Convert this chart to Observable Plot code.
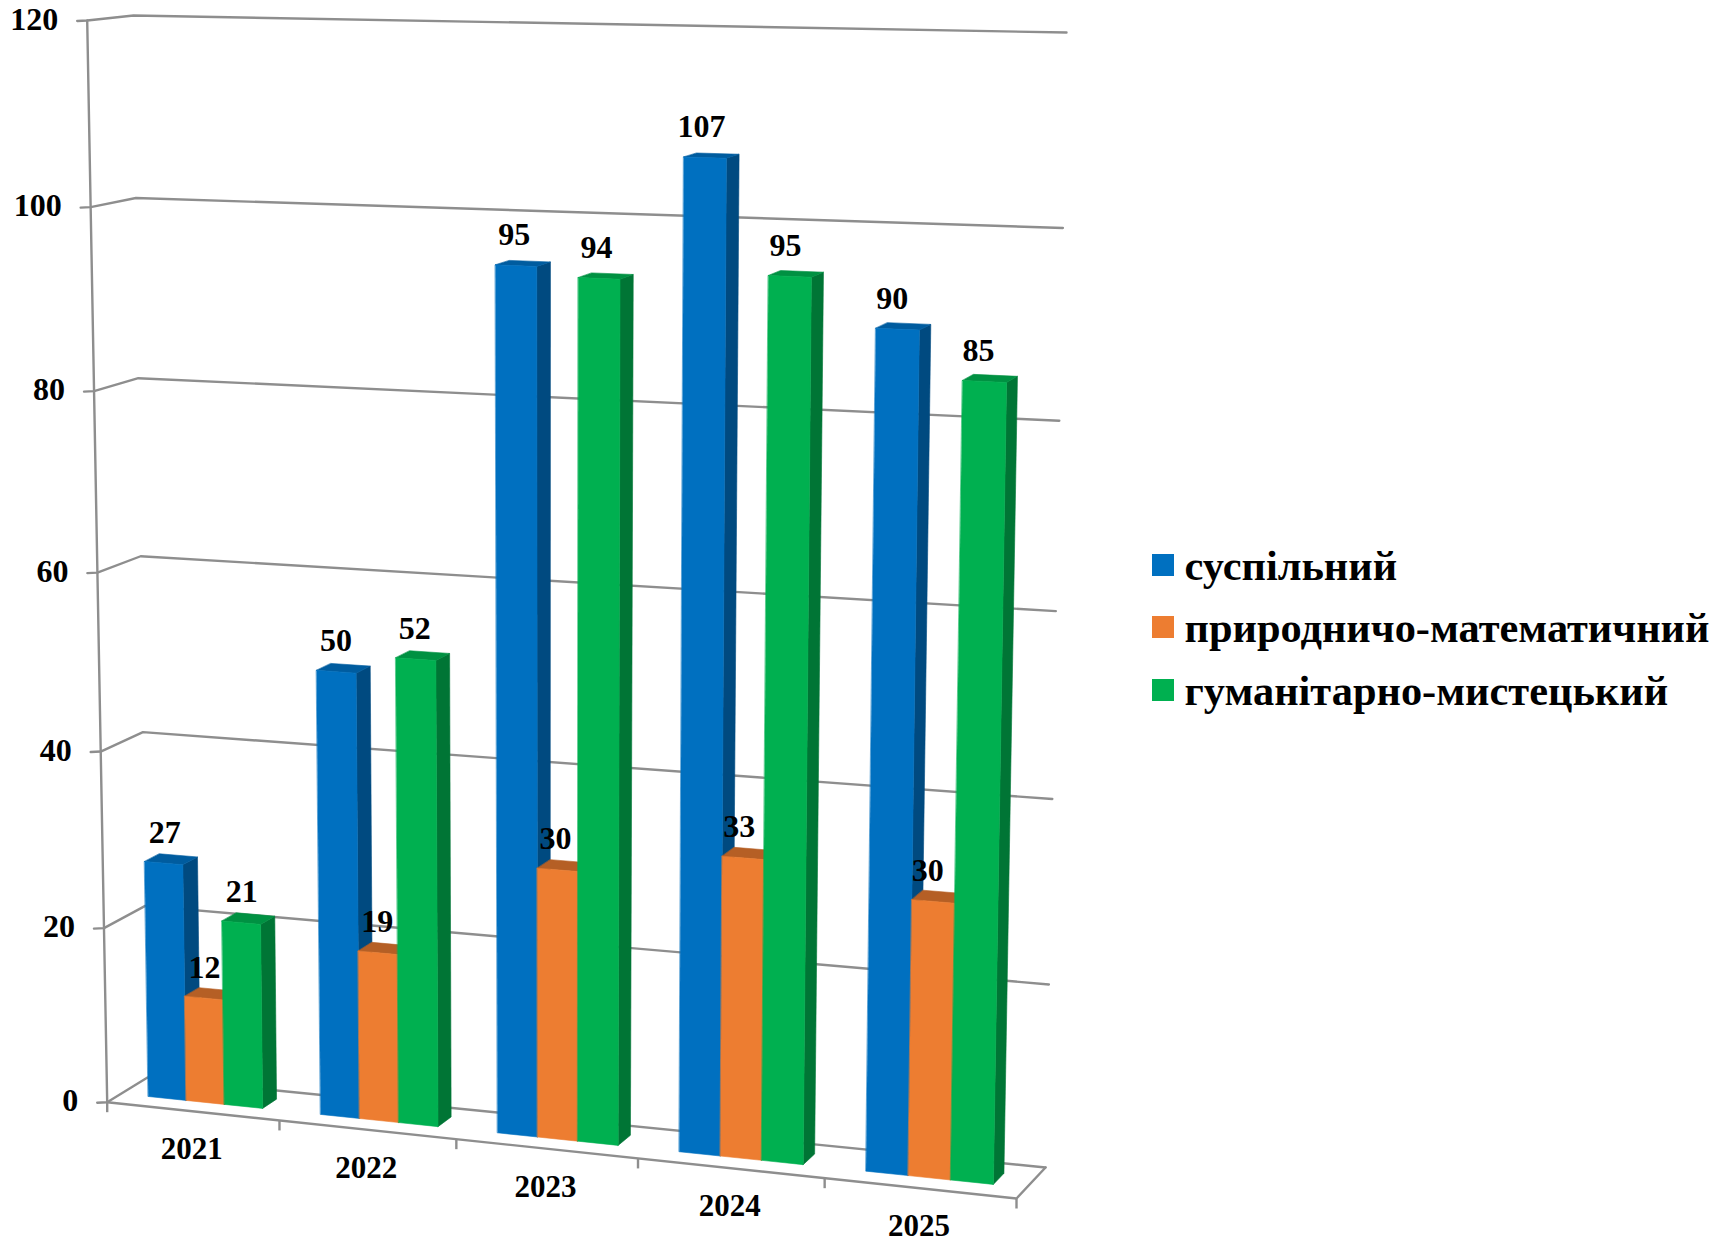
<!DOCTYPE html>
<html lang="uk">
<head>
<meta charset="utf-8">
<script src="https://cdn.jsdelivr.net/npm/d3@7/dist/d3.min.js"></script>
<script src="https://cdn.jsdelivr.net/npm/@observablehq/plot@0.6/dist/plot.umd.min.js"></script>
<style>html,body{margin:0;padding:0;background:#fff;overflow:hidden}svg{display:block}</style>
</head>
<body>
<div id="chart"></div>
<script>
// ---- data ----
const years = ["2021", "2022", "2023", "2024", "2025"];
const seriesNames = ["суспільний", "природничо-математичний", "гуманітарно-мистецький"];
const suspilnyi = [27, 50, 95, 107, 90];
const pryrodnychyi = [12, 19, 30, 33, 30];
const humanitarnyi = [21, 52, 94, 95, 85];
const valueTicks = [0, 20, 40, 60, 80, 100, 120];

// ---- style ----
const frontColors = ["#0070c0", "#ed7d31", "#00b050"];
const sideColors = ["#004a80", "#9e5320", "#007535"];
const topColors = ["#005c9f", "#b55f25", "#009142"];
const gridColor = "#8e8e8e";
const W = 1727, H = 1243;
const font = "'Liberation Serif','Times New Roman',serif";

// ---- perspective camera of the 3-D chart box ----
// corners: bottom-left, bottom-right, top-right, top-left of the front and back planes
const frontPlane = [[106.7, 1101.7], [1016, 1198], [1036, 42], [86.7, 20]];
const backPlane = [[147, 1077], [1045, 1167], [1066, 32], [133, 15]];
function homography([[x0, y0], [x1, y1], [x2, y2], [x3, y3]]) {
  const dx1 = x1 - x2, dx2 = x3 - x2, sx = x0 - x1 + x2 - x3;
  const dy1 = y1 - y2, dy2 = y3 - y2, sy = y0 - y1 + y2 - y3;
  const den = dx1 * dy2 - dx2 * dy1;
  const g = (sx * dy2 - dx2 * sy) / den, h = (dx1 * sy - sx * dy1) / den;
  const a = x1 - x0 + g * x1, b = x3 - x0 + h * x3, d = y1 - y0 + g * y1, e = y3 - y0 + h * y3;
  return (u, v) => {
    const k = g * u + h * v + 1;
    return [(a * u + b * v + x0) / k, (d * u + e * v + y0) / k];
  };
}
const hFront = homography(frontPlane), hBack = homography(backPlane);
const maxValue = 120;
// cat: 0..5 along the category axis, value: chart units, depth: 0 (front) .. 1 (back wall)
function project(cat, value, depth) {
  const u = cat / years.length, v = value / maxValue;
  const f = hFront(u, v), b = hBack(u, v);
  return [f[0] + (b[0] - f[0]) * depth, f[1] + (b[1] - f[1]) * depth];
}

// ---- derived tables ----
const barWidth = 1 / 4.5, gap = 0.75 * barWidth;   // gap width 150 %
const depth0 = 0.33, depth1 = 0.69;
const table = [suspilnyi, pryrodnychyi, humanitarnyi];

const faces = [];
function addFace(id, color, p0, p1, p2, p3) {
  // quad as an area between edge p0-p3 and edge p1-p2
  faces.push({id, color, x1: p0[0], y1: p0[1], x2: p3[0], y2: p3[1]});
  faces.push({id, color, x1: p1[0], y1: p1[1], x2: p2[0], y2: p2[1]});
}
const labels = [];
years.forEach((yr, i) => {
  table.forEach((vals, s) => {
    const a = i + gap + s * barWidth, b = a + barWidth, val = vals[i];
    const id = yr + "-" + s;
    addFace(id + "-side", sideColors[s], project(b, 0, depth0), project(b, 0, depth1), project(b, val, depth1), project(b, val, depth0));
    addFace(id + "-top", topColors[s], project(a, val, depth0), project(b, val, depth0), project(b, val, depth1), project(a, val, depth1));
    addFace(id + "-front", frontColors[s], project(a, 0, depth0), project(b, 0, depth0), project(b, val, depth0), project(a, val, depth0));
    const c = project(((a + b) / 2) * 0.992, val, depth0);
    labels.push({text: String(val), x: c[0], y: c[1]});
  });
});

// grid: short tick, side wall segment, back wall segment
const tickLen = 10;
const gridLines = valueTicks.flatMap(t => {
  const p = project(0, t, 0), q = project(0, t, 1), r = project(years.length, t, 1);
  return [[p[0] - tickLen, p[1] + 0.5], p, q, r].map(([x, y]) => ({t, x, y}));
});
const valueLabels = valueTicks.map(t => {
  const p = project(0, t, 0);
  return {text: String(t), x: p[0] - tickLen - 19, y: p[1]};
});
const floorOutline = [
  project(0, 0, 0), project(years.length, 0, 0), project(years.length, 0, 1)
].map(([x, y]) => ({x, y}));
const yAxisLine = [project(0, 0, 0), project(0, maxValue, 0)].map(([x, y]) => ({x, y}));
const catTicks = d3.range(years.length + 1).map(i => {
  const p = project(i, 0, 0);
  return {x: p[0], y: p[1]};
});
const yearLabels = years.map((yr, i) => {
  const p = project(i + 0.5, 0, 0);
  return {text: yr, x: p[0], y: p[1]};
});

// legend layout
const legendRows = seriesNames.map((name, s) => ({
  name, color: frontColors[s], y: [565, 627, 690][s]
}));

const chart = Plot.plot({
  width: W, height: H,
  margin: 0,
  x: {domain: [0, W], range: [0, W], axis: null},
  y: {domain: [0, H], range: [0, H], axis: null},
  color: {type: "identity"},
  style: {background: "#fff"},
  marks: [
    Plot.line(gridLines, {x: "x", y: "y", z: "t", stroke: gridColor, strokeWidth: 2.4}),
    Plot.line(yAxisLine, {x: "x", y: "y", stroke: gridColor, strokeWidth: 2.4}),
    Plot.line(floorOutline, {x: "x", y: "y", stroke: gridColor, strokeWidth: 2.4}),
    Plot.link(catTicks, {x1: "x", y1: "y", x2: "x", y2: d => d.y + 10, stroke: gridColor, strokeWidth: 2.4}),
    Plot.area(faces, {x1: "x1", y1: "y1", x2: "x2", y2: "y2", z: "id", fill: "color", stroke: "color", strokeWidth: 0.6}),
    Plot.text(valueLabels, {x: "x", y: "y", dy: -1, text: "text", textAnchor: "end", fontFamily: font, fontWeight: "bold", fontSize: 32, fill: "#000"}),
    Plot.text(yearLabels, {x: "x", y: "y", dx: -1, dy: 38, text: "text", fontFamily: font, fontWeight: "bold", fontSize: 31, fill: "#000"}),
    Plot.text(labels, {x: "x", y: "y", dx: 1, dy: -31, text: "text", fontFamily: font, fontWeight: "bold", fontSize: 32, fill: "#000"}),
    Plot.rect(legendRows, {x1: () => 1152, x2: () => 1174, y1: d => d.y - 11, y2: d => d.y + 11, fill: "color"}),
    Plot.text(legendRows, {x: () => 1184, y: "y", dy: 1.4, text: "name", textAnchor: "start", fontFamily: font, fontWeight: "bold", fontSize: 42.4, fill: "#000"})
  ]
});
document.getElementById("chart").append(chart);
</script>
</body>
</html>
